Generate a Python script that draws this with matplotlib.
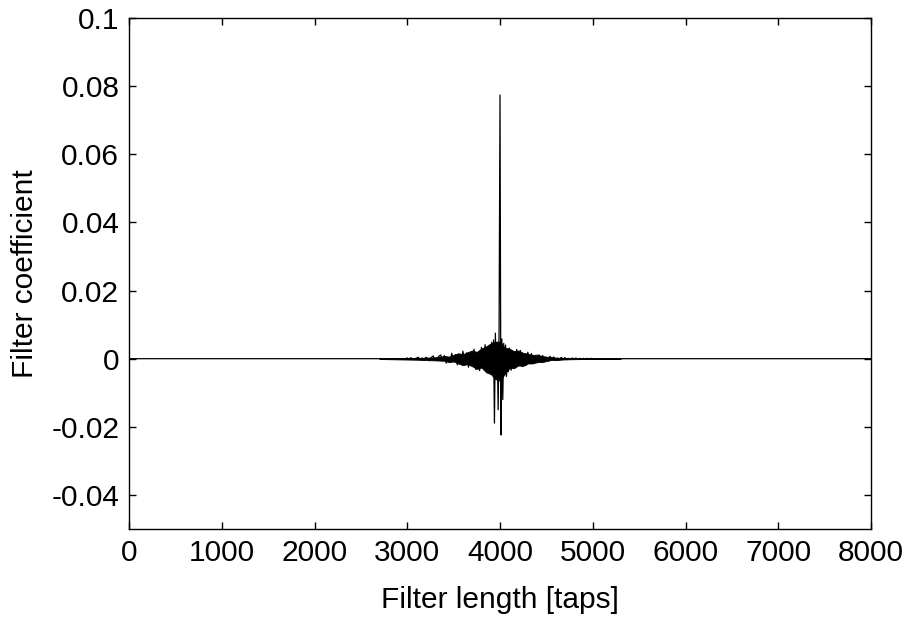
import numpy as np
import matplotlib
matplotlib.use("Agg")
import matplotlib.pyplot as plt

plt.rcParams['font.family'] = ['Liberation Sans', 'DejaVu Sans']

# Filter coefficients (zero outside the burst)
taps_left = np.arange(3000, 3900, 20)
coef_left = [0.0002, -0.0001, 0.0003, -0.0002, -0.0001, 0.0002,
             0.0004, -0.0003, 0.0002, -0.0005, 0.0004, 0.0001,
             -0.0006, 0.0004, 0.0008, -0.0005, -0.0003, 0.0007,
             0.0011, -0.0006, 0.0009, -0.0013, 0.0004, -0.0010,
             0.0016, -0.0009, 0.0012, -0.0018, 0.0006, -0.0015,
             0.0022, -0.0011, 0.0017, -0.0025, 0.0008, -0.0020,
             0.0028, -0.0032, 0.0012, -0.0035, 0.0033, -0.0016,
             0.0041, -0.0038, 0.0030]

taps_mid = np.arange(3900, 4110, 10)
coef_mid = [-0.0045, 0.0048, -0.0030, 0.0055, -0.0189, 0.0075, -0.0060,
            0.0035, -0.0150, 0.0084, 0.0774, -0.0224, 0.0058, -0.0120,
            0.0045, -0.0035, 0.0040, -0.0052, 0.0025, -0.0038, 0.0031]

taps_right = np.arange(4120, 5020, 20)
coef_right = [-0.0034, 0.0018, -0.0029, 0.0027, -0.0012, 0.0024,
              -0.0023, 0.0008, -0.0020, 0.0019, -0.0007, 0.0015,
              -0.0014, 0.0006, -0.0012, 0.0011, -0.0004, 0.0009,
              -0.0009, 0.0003, -0.0007, 0.0007, -0.0002, 0.0005,
              -0.0005, 0.0002, -0.0004, 0.0004, -0.0001, 0.0003,
              -0.0003, 0.0001, -0.0002, 0.0002, -0.0001, 0.0002,
              -0.0002, 0.0001, -0.0001, 0.0001, -0.0001, 0.0001,
              -0.0001, 0.0001, 0.0]

# upper / lower envelope of the dense oscillation around the main tap
env_taps = [2700, 2900, 3100, 3300, 3400, 3450, 3500, 3550, 3600, 3650,
            3700, 3750, 3800, 3850, 3900, 3950, 4000, 4050, 4100, 4150,
            4200, 4250, 4300, 4350, 4400, 4450, 4500, 4550, 4600, 4700,
            4900, 5300]
env_upper = [0.0001, 0.0002, 0.0002, 0.0004, 0.0008, 0.0006, 0.0011, 0.0016,
             0.0013, 0.0019, 0.0024, 0.0020, 0.0030, 0.0036, 0.0045, 0.0050,
             0.0050, 0.0032, 0.0030, 0.0022, 0.0024, 0.0017, 0.0015, 0.0011,
             0.0012, 0.0008, 0.0006, 0.0005, 0.0003, 0.0002, 0.0001, 0.0001]
env_lower = [-0.0001, -0.0002, -0.0003, -0.0005, -0.0006, -0.0010, -0.0008,
             -0.0014, -0.0019, -0.0016, -0.0022, -0.0030, -0.0026, -0.0040,
             -0.0045, -0.0060, -0.0065, -0.0045, -0.0028, -0.0027, -0.0020,
             -0.0021, -0.0014, -0.0014, -0.0010, -0.0010, -0.0007, -0.0004,
             -0.0004, -0.0002, -0.0001, -0.0001]

taps = np.concatenate([[0, 2980], taps_left, taps_mid, taps_right, [8000]])
coef = np.concatenate([[0.0, 0.0], coef_left, coef_mid, coef_right, [0.0]])

fig = plt.figure(figsize=(9.13, 6.21), dpi=100)
ax = fig.add_axes([0.1413, 0.1481, 0.8127, 0.8229])
ax.fill_between(env_taps, env_lower, env_upper, color='black', linewidth=0.6)
ax.plot(taps, coef, color='black', linewidth=0.9)

ax.set_xlim(0, 8000)
ax.set_ylim(-0.05, 0.1)
ax.set_xticks(np.arange(0, 8001, 1000))
ax.set_yticks([-0.04, -0.02, 0, 0.02, 0.04, 0.06, 0.08, 0.1])
ax.set_yticklabels(['-0.04', '-0.02', '0', '0.02', '0.04', '0.06', '0.08', '0.1'])
ax.tick_params(direction='in', top=True, right=True, length=5, width=1,
               labelsize=21.5, pad=7)
for s in ax.spines.values():
    s.set_linewidth(1)

ax.set_xlabel('Filter length [taps]', fontsize=21.5, labelpad=14)
ax.set_ylabel('Filter coefficient', fontsize=21.5, labelpad=9)

fig.savefig('out.png', dpi=100)
